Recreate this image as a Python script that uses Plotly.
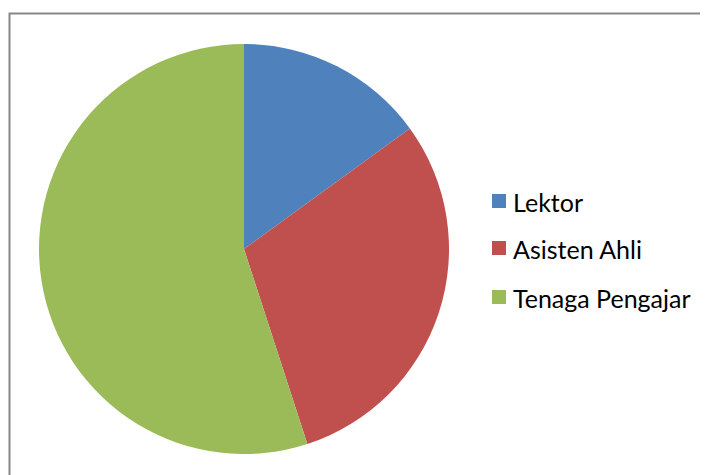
import plotly.graph_objects as go

labels = ["Lektor", "Asisten Ahli", "Tenaga Pengajar"]
values = [15, 30, 55]
colors = ["#4F81BD", "#C0504D", "#9BBB59"]

W, H = 708, 475
OFF = 8  # page body margin offset

def px_x(x):
    return (x - OFF) / W

def px_y(y):
    return 1 - (y - OFF) / H

fig = go.Figure(go.Pie(
    labels=labels, values=values, sort=False, direction="clockwise", rotation=0,
    marker=dict(colors=colors, line=dict(width=0)),
    textinfo="none", hoverinfo="label+value",
    domain=dict(x=[px_x(39), px_x(449)], y=[px_y(454), px_y(44)]),
    showlegend=False,
))

# border of chart area
fig.add_shape(type="rect", xref="paper", yref="paper",
              x0=px_x(9.5), x1=1.1, y0=-0.1, y1=px_y(13.5),
              line=dict(color="#878787", width=2), fillcolor="rgba(0,0,0,0)")

# legend (manual)
leg_y = [201, 248, 297]
for lab, col, yy in zip(labels, colors, leg_y):
    fig.add_shape(type="rect", xref="paper", yref="paper",
                  x0=px_x(492), x1=px_x(506), y0=px_y(yy + 7), y1=px_y(yy - 7),
                  line=dict(width=0), fillcolor=col)
    fig.add_annotation(text=lab, xref="paper", yref="paper", x=px_x(511), y=px_y(yy + 1),
                       xanchor="left", yanchor="middle", showarrow=False,
                       font=dict(family="Lato", size=25, color="#000000"))

fig.update_layout(width=W, height=H, margin=dict(l=0, r=0, t=0, b=0),
                  paper_bgcolor="white", plot_bgcolor="white")
fig.write_html("out.html")
